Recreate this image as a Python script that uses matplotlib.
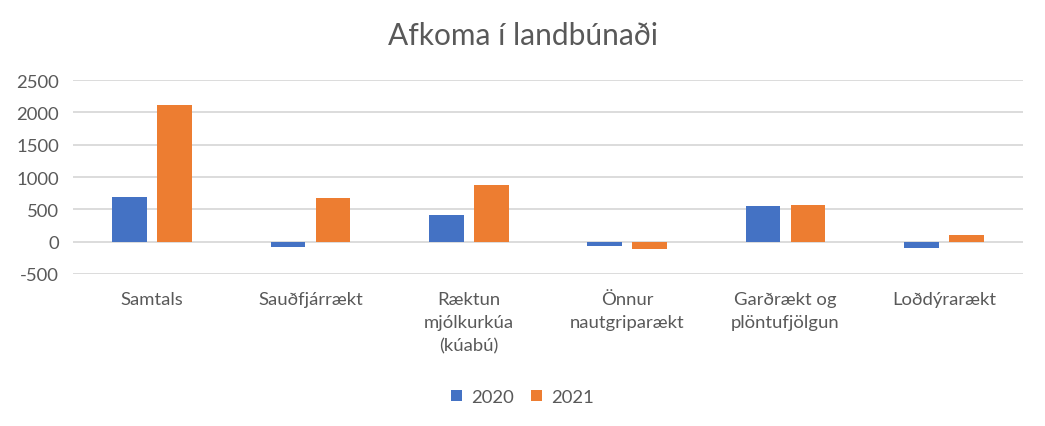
import numpy as np
import matplotlib.pyplot as plt

# data
categories = ['Samtals', 'Sauðfjárrækt', 'Ræktun\nmjólkurkúa\n(kúabú)',
              'Önnur\nnautgriparækt', 'Garðrækt og\nplöntufjölgun', 'Loðdýrarækt']
y2020 = [695, -90, 415, -70, 555, -100]
y2021 = [2110, 680, 880, -115, 570, 105]
yticks = [-500, 0, 500, 1000, 1500, 2000, 2500]

plt.rcParams['font.family'] = ['Lato', 'DejaVu Sans']
txt = '#595959'

fig = plt.figure(figsize=(10.45, 4.27), dpi=100)
ax = fig.add_axes([0.0699, 0.356, 0.909, 0.454])

x = np.arange(len(categories))
w = 0.22
ax.bar(x - 0.142, y2020, w, color='#4472C4', label='2020', zorder=3)
ax.bar(x + 0.142, y2021, w, color='#ED7D31', label='2021', zorder=3)

ax.set_xlim(-0.5, len(categories) - 0.5)
ax.set_ylim(-500, 2500)
ax.set_yticks(yticks)
ax.set_yticklabels([str(v) for v in yticks])
ax.grid(axis='y', color='#D9D9D9', linewidth=1.3, zorder=0)
ax.set_xticks(x)
ax.set_xticklabels(categories, linespacing=1.55)
ax.tick_params(axis='both', length=0, colors=txt, labelsize=13.3)
ax.tick_params(axis='x', pad=12)
ax.tick_params(axis='y', pad=10)
for s in ax.spines.values():
    s.set_visible(False)

fig.text(0.5, 0.915, 'Afkoma í landbúnaði', ha='center', va='center',
         fontsize=21.5, color=txt)
fig.legend(loc='center', bbox_to_anchor=(0.5, 0.068), ncol=2, frameon=False,
           fontsize=13.3, labelcolor=txt, handlelength=0.6, handleheight=0.6,
           columnspacing=0.9, handletextpad=0.5)

fig.savefig('out.png', dpi=100)
